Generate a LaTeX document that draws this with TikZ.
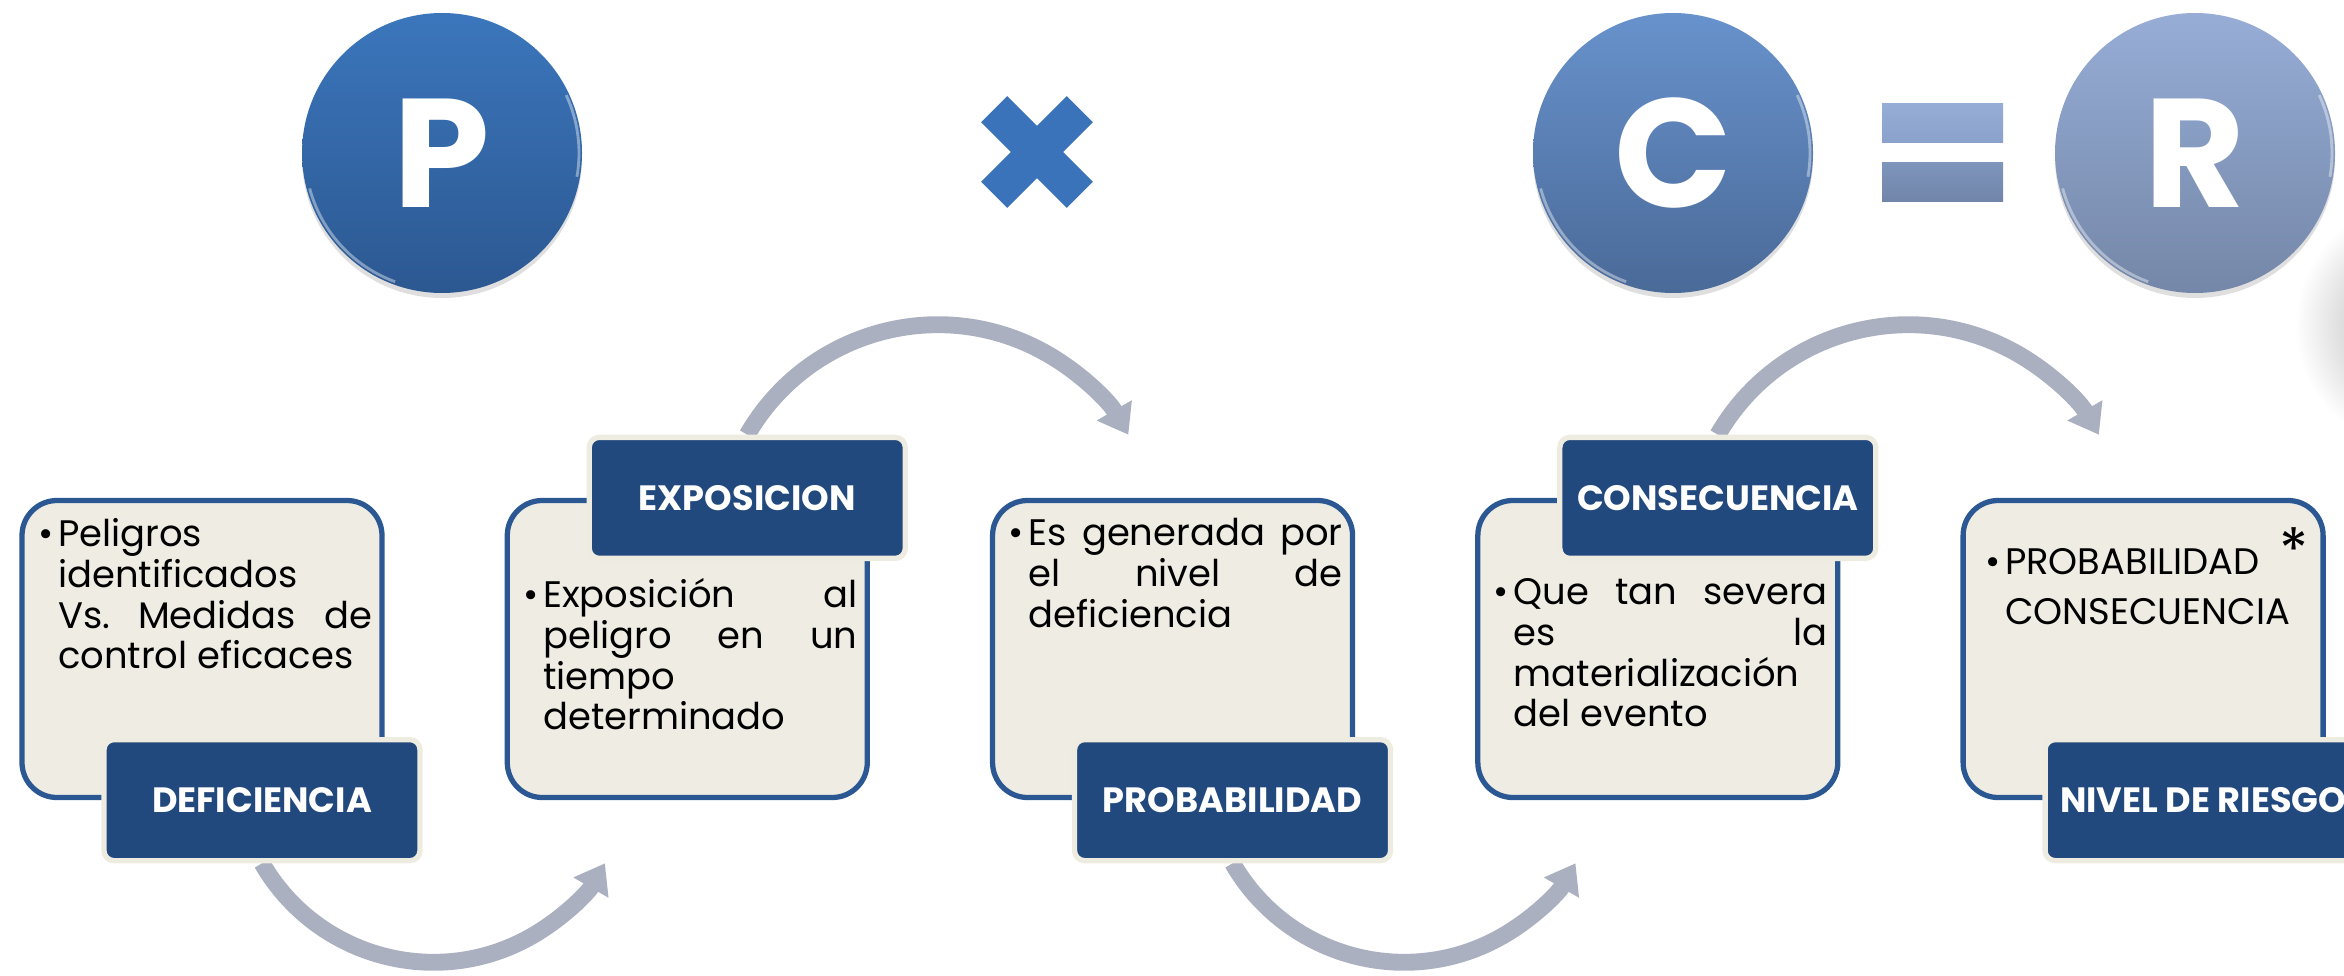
\documentclass[tikz,border=0pt]{standalone}
\usepackage{fontspec}
\setmainfont{Poppins}
\usepackage{xcolor}
\usepackage{tikz}
\usetikzlibrary{positioning}
\usetikzlibrary{calc}
\usetikzlibrary{backgrounds}
\usetikzlibrary{shadows}
\usetikzlibrary{arrows.meta}

\definecolor{boxline}{HTML}{2B5893}
\definecolor{boxfill}{HTML}{EEECE3}
\definecolor{tagfill}{HTML}{22497D}
\definecolor{tagline}{HTML}{EEECE1}
\definecolor{flowgray}{HTML}{AAB0C0}
\definecolor{pTop}{HTML}{3B76BC}
\definecolor{pBot}{HTML}{2C5891}
\definecolor{cTop}{HTML}{6892CC}
\definecolor{cBot}{HTML}{4A6A98}
\definecolor{rTop}{HTML}{97ADD6}
\definecolor{rBot}{HTML}{7487A8}
\definecolor{xblue}{HTML}{3A73B9}
\definecolor{eqTop}{HTML}{96ADD6}
\definecolor{eqMid}{HTML}{8AA1CB}
\definecolor{eqLow}{HTML}{7E95BC}
\definecolor{eqBot}{HTML}{7085A8}

\newcommand{\bul}[1]{\frenchspacing\noindent\hangindent=5.7pt\hangafter=1\makebox[5.7pt][l]{\textbullet}#1\par}

\begin{document}
\begin{tikzpicture}%%PxC=R

        \tikzstyle{ball} = [circle, minimum size=2.8cm, inner sep=0pt, text=white, font=\fontsize{44}{44}\selectfont\bfseries, drop shadow={opacity=0.25, shadow xshift=0pt, shadow yshift=-0.05cm}]
        \tikzstyle{card} = [rectangle, rounded corners=0.35cm, draw=boxline, fill=boxfill, line width=1.5pt, minimum width=3.6cm, minimum height=2.97cm]
        \tikzstyle{tag}  = [rectangle, rounded corners=0.1cm, draw=tagline, fill=tagfill, line width=1.5pt, minimum width=3.16cm, minimum height=1.21cm, inner sep=0pt, text=white, font=\fontsize{10}{12}\selectfont\bfseries]
        \tikzstyle{txt}  = [anchor=north west, inner sep=0pt, text width=3.34cm, align=justify, font=\fontsize{10.5}{11.6}\selectfont]
        \tikzstyle{flow} = [draw=flowgray, line width=4.8pt, -{Triangle[width=11pt,length=8pt]}]

        \useasboundingbox (0,0) rectangle (23.44,9.75);

        % P x C = R
        \node [ball, top color=pTop, bottom color=pBot](P) at (4.42,8.22) {P};
        \node [ball, top color=cTop, bottom color=cBot](C) at (16.73,8.22) {C};
        \node [ball, top color=rTop, bottom color=rBot](R) at (21.95,8.22) {R};
        \foreach \b in {P,C,R}
        {
                \draw [white, opacity=0.4, line width=0.8pt] ($(\b.center)+(195:1.37)$) arc[start angle=195, end angle=250, radius=1.37];
                \draw [white, opacity=0.4, line width=0.8pt] ($(\b.center)+(-10:1.37)$) arc[start angle=-10, end angle=25, radius=1.37];
        }
        \foreach \r in {45,-45}
                \fill [xblue, rotate around={\r:(10.37,8.23)}] (9.765,8.045) rectangle (10.975,8.415);
        \shade [top color=eqTop, bottom color=eqMid] (18.82,8.71) rectangle (20.03,8.32);
        \shade [top color=eqLow, bottom color=eqBot] (18.82,8.12) rectangle (20.03,7.73);

        % cards
        \node [card](box1) at (2.02,3.26) {};
        \node [card, right=1.2cm of box1](box2) {};
        \node [card, right=1.2cm of box2](box3) {};
        \node [card, right=1.2cm of box3](box4) {};
        \node [card, right=1.2cm of box4](box5) {};

        \node [txt](t1) at ($(box1.north west)+(0.18,-0.2)$) {\bul{Peligros\linebreak identificados\linebreak Vs. Medidas de\linebreak control eficaces}};
        \node [txt](t2) at ($(box2.north west)+(0.18,-0.8)$) {\bul{Exposición al\linebreak peligro en un\linebreak tiempo\linebreak determinado}};
        \node [txt](t3) at ($(box3.north west)+(0.18,-0.2)$) {\bul{Es generada por\linebreak el nivel de\linebreak deficiencia}};
        \node [txt](t4) at ($(box4.north west)+(0.18,-0.8)$) {\bul{Que tan severa\linebreak es la\linebreak materialización\linebreak del evento}};
        \node [txt, align=left, text width=3.2cm, font=\fontsize{10.5}{14.2}\selectfont](t5) at ($(box5.north west)+(0.24,-0.5)$) {\bul{PROBABILIDAD\linebreak CONSECUENCIA}};
        \node [anchor=north, inner sep=0pt, font=\fontsize{17}{17}\selectfont](ast) at (22.94,4.48) {*};

        \node [tag](lab1) at ($(box1.south)+(0.6,0)$) {DEFICIENCIA};
        \node [tag](lab2) at ($(box2.north)+(0.6,0)$) {EXPOSICION};
        \node [tag](lab3) at ($(box3.south)+(0.6,0)$) {PROBABILIDAD};
        \node [tag](lab4) at ($(box4.north)+(0.6,0)$) {CONSECUENCIA};
        \node [tag](lab5) at ($(box5.south)+(0.6,0)$) {NIVEL DE RIESGO};

        \begin{scope}[on background layer]
                \shade [inner color=black!35, outer color=white] (24.2,6.5) circle (1.25);
                \foreach \a in {1,3}
                        \draw [flow] (lab\a.south) arc[start angle=210, end angle=330, radius=1.98];
                \foreach \a in {2,4}
                        \draw [flow] (lab\a.north) arc[start angle=150, end angle=30, radius=2.2];
        \end{scope}
\end{tikzpicture}
\end{document}
